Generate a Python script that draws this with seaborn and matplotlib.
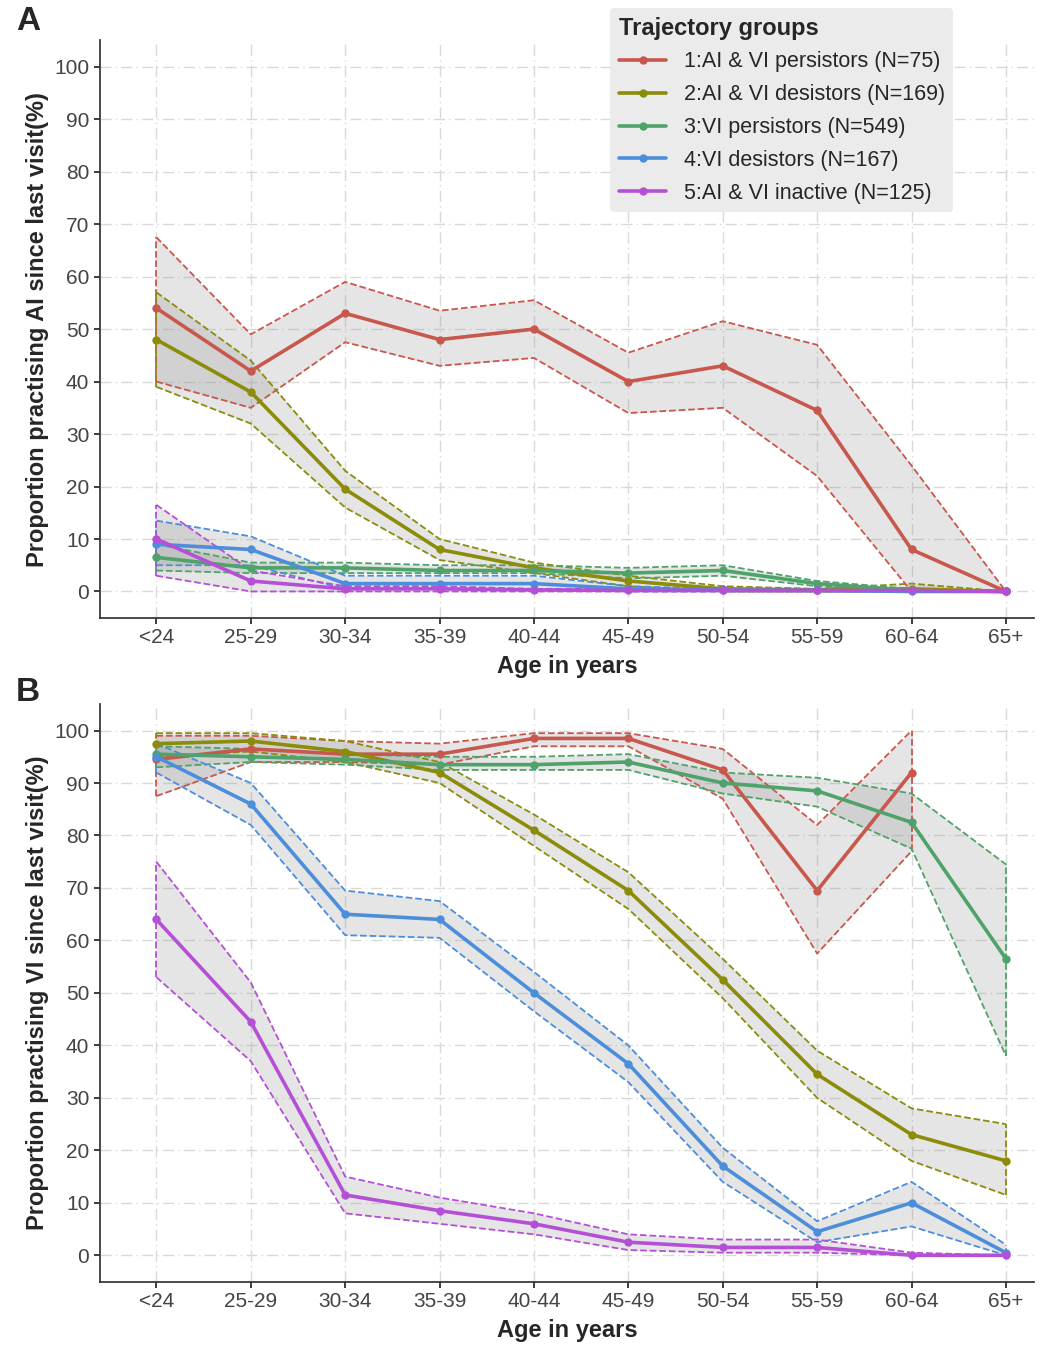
import numpy as np
import pandas as pd
import matplotlib
matplotlib.use("Agg")
import matplotlib.pyplot as plt
import seaborn as sns

ages = ["<24", "25-29", "30-34", "35-39", "40-44", "45-49", "50-54", "55-59", "60-64", "65+"]
groups = ["1:AI & VI persistors (N=75)", "2:AI & VI desistors (N=169)",
          "3:VI persistors (N=549)", "4:VI desistors (N=167)", "5:AI & VI inactive (N=125)"]
colors = ["#C8574D", "#8C8C0A", "#4FA36A", "#4C8EDA", "#B550D6"]

# Panel A: AI
ai_mean = [
    [54, 42, 53, 48, 50, 40, 43, 34.5, 8, 0],
    [48, 38, 19.5, 8, 4.5, 2, 0.5, 0.3, 0.5, 0],
    [6.5, 4.5, 4.5, 4, 4, 3.5, 4, 1.5, 0.2, 0],
    [9, 8, 1.5, 1.5, 1.5, 0.5, 0.3, 0.2, 0, 0],
    [10, 2, 0.5, 0.5, 0.3, 0.2, 0.2, 0.2, 0.2, 0],
]
ai_lo = [
    [40, 35, 47.5, 43, 44.5, 34, 35, 22, 0, 0],
    [39, 32, 16, 6, 3.5, 1, 0, 0, 0, 0],
    [4, 3.5, 3.5, 3.5, 3.5, 2.5, 3, 1, 0, 0],
    [5, 5, 0.5, 0.5, 0.5, 0, 0, 0, 0, 0],
    [3, 0, 0, 0, 0, 0, 0, 0, 0, 0],
]
ai_hi = [
    [67.5, 49, 59, 53.5, 55.5, 45.5, 51.5, 47, 24, 0],
    [57, 44, 23, 10, 5.5, 3, 1, 0.5, 1.5, 0],
    [9, 5.5, 5.5, 5, 5, 4.5, 5, 2, 0.5, 0],
    [13.5, 10.5, 3, 3, 3, 1, 0.5, 0.5, 0, 0],
    [16.5, 4, 1, 1, 0.5, 0.5, 0.5, 0.5, 0.5, 0],
]

# Panel B: VI
vi_mean = [
    [94.5, 96.5, 95.5, 95.5, 98.5, 98.5, 92.5, 69.5, 92, np.nan],
    [97.5, 98, 96, 92, 81, 69.5, 52.5, 34.5, 23, 18],
    [95.5, 95, 94.5, 93.5, 93.5, 94, 90, 88.5, 82.5, 56.5],
    [95, 86, 65, 64, 50, 36.5, 17, 4.5, 10, 0.5],
    [64, 44.5, 11.5, 8.5, 6, 2.5, 1.5, 1.5, 0, 0],
]
vi_lo = [
    [87.5, 94, 94, 93.5, 97, 97, 87, 57.5, 77, np.nan],
    [95, 96, 94, 90, 78, 66, 49, 30, 18, 11.5],
    [93, 94, 93.5, 92.5, 92.5, 92.5, 88, 85.5, 77.5, 38],
    [92, 82, 61, 60.5, 46.5, 33, 14, 2.5, 5.5, 0],
    [53, 37, 8, 6, 4, 1, 0.5, 0.5, 0, 0],
]
vi_hi = [
    [99, 99, 98, 97.5, 99.5, 99.5, 96.5, 82, 100, np.nan],
    [99.5, 99.5, 98, 94, 84, 73, 56.5, 39, 28, 25],
    [97, 96.5, 95.5, 95, 95, 95.5, 92, 91, 88, 74.5],
    [97.5, 90, 69.5, 67.5, 54, 40, 20.5, 6.5, 14, 2],
    [75, 52, 15, 11, 8, 4, 3, 3, 0.5, 0],
]

sns.set_theme(style="white")
plt.rcParams["font.family"] = ["Liberation Sans", "DejaVu Sans"]

fig, axes = plt.subplots(2, 1, figsize=(10.5, 13.49), dpi=100)
x = np.arange(len(ages))


def draw(ax, means, los, his, ylabel, legend):
    rows = []
    for g, m in zip(groups, means):
        for xi, v in zip(x, m):
            rows.append({"x": xi, "y": v, "group": g})
    df = pd.DataFrame(rows).dropna()
    for lo, hi, c in zip(los, his, colors):
        lo = np.array(lo, float)
        hi = np.array(hi, float)
        ok = ~np.isnan(lo)
        ax.fill_between(x[ok], lo[ok], hi[ok], color="#999999", alpha=0.25, lw=0, zorder=1)
        ax.plot(x[ok], lo[ok], ls="--", color=c, lw=1.3, zorder=2)
        ax.plot(x[ok], hi[ok], ls="--", color=c, lw=1.3, zorder=2)
        for i in [np.where(ok)[0][0], np.where(ok)[0][-1]]:
            ax.plot([x[i], x[i]], [lo[i], hi[i]], ls="--", color=c, lw=1.3, zorder=2)
    sns.lineplot(data=df, x="x", y="y", hue="group", palette=colors, marker="o",
                 markersize=6, markeredgewidth=0, lw=2.6, ax=ax, legend=legend, zorder=3)
    ax.set_xlim(-0.6, 9.3)
    ax.set_ylim(-5, 105)
    ax.set_xticks(x)
    ax.set_xticklabels(ages, fontsize=15, color="#444444")
    ax.set_yticks(range(0, 101, 10))
    ax.tick_params(axis="y", labelsize=15, labelcolor="#444444", length=4, left=True)
    ax.tick_params(axis="x", length=4, bottom=True)
    ax.grid(True, color="#d9d9d9", ls=(0, (8, 3, 1, 3)), lw=1)
    ax.set_axisbelow(True)
    for s in ["top", "right"]:
        ax.spines[s].set_visible(False)
    for s in ["left", "bottom"]:
        ax.spines[s].set_color("#333333")
    ax.set_xlabel("Age in years", fontsize=17, fontweight="bold", labelpad=6)
    ax.set_ylabel(ylabel, fontsize=17, fontweight="bold")


draw(axes[0], ai_mean, ai_lo, ai_hi, "Proportion practising AI since last visit(%)", True)
draw(axes[1], vi_mean, vi_lo, vi_hi, "Proportion practising VI since last visit(%)", False)

leg = axes[0].legend(title="Trajectory groups", loc="upper left", fontsize=15.5,
                     title_fontproperties={"size": 17, "weight": "bold"},
                     frameon=True, facecolor="#ebebeb", edgecolor="none",
                     framealpha=1, bbox_to_anchor=(0.535, 1.075), alignment="left",
                     handlelength=2.2, labelspacing=0.55)

fig.text(0.015, 0.978, "A", fontsize=24, fontweight="bold")
fig.text(0.015, 0.48, "B", fontsize=24, fontweight="bold")
fig.subplots_adjust(left=0.095, right=0.985, top=0.97, bottom=0.05, hspace=0.15)
fig.savefig("out.png", dpi=100)
